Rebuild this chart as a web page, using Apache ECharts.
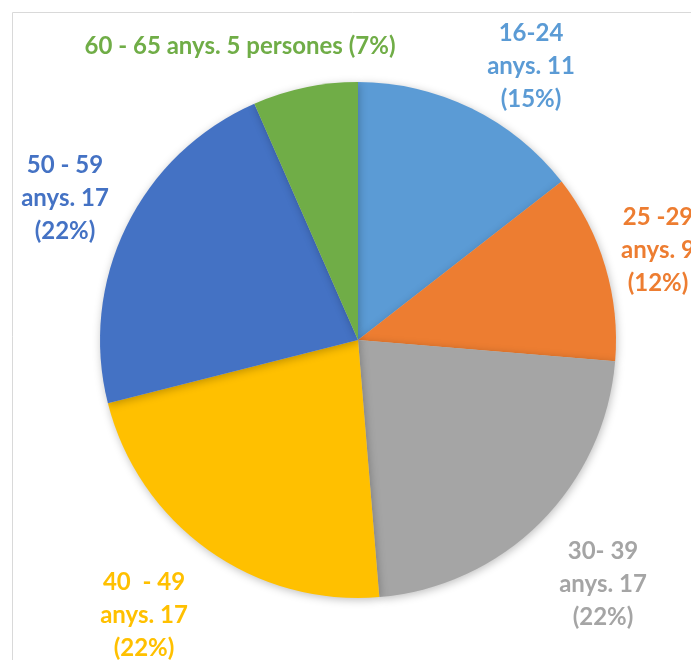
<!DOCTYPE html>
<html>
<head>
<meta charset="utf-8">
<script src="https://cdn.jsdelivr.net/npm/echarts@6/dist/echarts.min.js"></script>
<style>html,body{margin:0;padding:0;background:#fff}#c{width:691px;height:660px}</style>
</head>
<body>
<div id="c"></div>
<script>
const categories = ["16-24", "25 -29", "30- 39", "40  - 49", "50 - 59", "60 - 65"];
const values = [11, 9, 17, 17, 17, 5];
const labelTexts = [
  "16-24\nanys. 11\n(15%)",
  "25 -29\nanys. 9\n(12%)",
  "30- 39\nanys. 17\n(22%)",
  "40  - 49\nanys. 17\n(22%)",
  "50 - 59\nanys. 17\n(22%)",
  "60 - 65 anys. 5 persones (7%)"
];
const colors = ["#5B9BD5", "#ED7D31", "#A5A5A5", "#FFC000", "#4472C4", "#70AD47"];
const labelPos = [[531, 66], [658, 250], [603, 584], [144, 615], [65, 198], [240, 46]];

const chart = echarts.init(document.getElementById('c'), null, {renderer: 'canvas'});
chart.setOption({
  animation: false,
  graphic: [{
    type: 'rect', z: -1,
    shape: {x: 12.5, y: 12.5, width: 720, height: 720},
    style: {fill: 'none', stroke: '#d9d9d9', lineWidth: 1}
  }],
  series: [{
    type: 'pie',
    center: [358, 340],
    radius: 258,
    startAngle: 90,
    clockwise: true,
    data: categories.map((c, i) => ({
      name: c, value: values[i],
      itemStyle: {color: colors[i]},
      label: {color: colors[i]}
    })),
    itemStyle: {
      shadowBlur: 8, shadowColor: 'rgba(0,0,0,0.25)', shadowOffsetX: 1, shadowOffsetY: 2
    },
    label: {
      show: true,
      position: 'outside',
      formatter: p => labelTexts[p.dataIndex],
      fontFamily: 'Lato',
      fontWeight: 'bold',
      fontSize: 24,
      lineHeight: 33,
      align: 'center',
      overflow: 'none',
      width: 400
    },
    labelLine: {show: false},
    labelLayout: p => ({
      x: labelPos[p.dataIndex][0],
      y: labelPos[p.dataIndex][1],
      align: 'center',
      verticalAlign: 'middle',
      hideOverlap: false,
      moveOverlap: false
    }),
    emphasis: {disabled: true}
  }]
});
</script>
</body>
</html>
